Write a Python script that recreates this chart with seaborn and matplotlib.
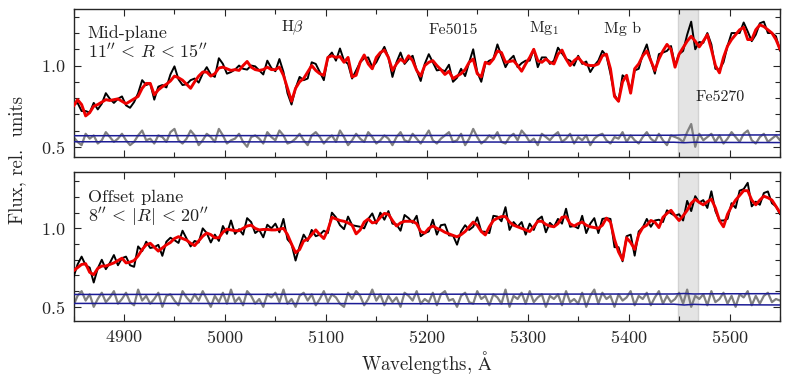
import matplotlib
matplotlib.use("Agg")
import matplotlib.pyplot as plt
import matplotlib.ticker as mticker
import numpy as np
import pandas as pd
import seaborn as sns

# wavelength grid of the read-off points (Angstrom)
wave_start, wave_stop, wave_step = 4850, 5550, 4

# mid-plane: best-fit model (red) and residuals data - model (in 0.01 units)
mid_model = [
    0.75, 0.79, 0.76, 0.69, 0.71, 0.75, 0.76, 0.775, 0.79, 0.785,
    0.79, 0.795, 0.78, 0.765, 0.78, 0.795, 0.81, 0.86, 0.89, 0.89,
    0.82, 0.85, 0.87, 0.885, 0.905, 0.935, 0.925, 0.91, 0.885, 0.86,
    0.90, 0.935, 0.96, 0.96, 0.935, 0.95, 0.985, 0.99, 0.98, 0.97,
    0.975, 0.97, 1.00, 1.025, 0.99, 0.975, 0.97, 0.975, 0.99, 0.975,
    0.975, 0.99, 0.94, 0.86, 0.78, 0.86, 0.90, 0.92, 0.96, 1.00,
    0.97, 0.95, 0.94, 1.05, 1.06, 1.05, 1.055, 1.02, 1.05, 0.93,
    0.94, 1.02, 1.065, 1.01, 0.98, 1.05, 1.08, 1.095, 1.05, 0.97,
    1.01, 1.04, 1.02, 1.06, 1.03, 0.97, 0.935, 1.00, 1.02, 1.03,
    1.00, 0.975, 0.945, 0.965, 0.92, 0.935, 0.95, 0.975, 1.02, 1.04,
    0.95, 0.93, 1.02, 1.01, 1.04, 1.09, 1.08, 1.02, 1.025, 1.03,
    1.00, 0.965, 1.01, 1.05, 1.10, 1.03, 1.02, 1.04, 1.02, 1.01,
    1.07, 1.095, 1.04, 1.00, 1.03, 1.05, 1.02, 1.005, 1.00, 1.00,
    1.01, 1.06, 1.07, 0.98, 0.81, 0.78, 0.90, 0.94, 0.83, 0.98,
    1.01, 1.06, 1.09, 1.03, 0.97, 1.04, 1.09, 1.13, 1.10, 0.99,
    1.07, 1.11, 1.15, 1.18, 1.15, 1.115, 1.15, 1.19, 1.10, 1.00,
    0.955, 1.05, 1.12, 1.16, 1.19, 1.22, 1.235, 1.16, 1.16, 1.22,
    1.25, 1.24, 1.22, 1.20, 1.16, 1.10,
]
mid_resid = [
    1, -2, -4, 3, 0, 2, -3, -1, 4, 1,
    -2, 0, 3, -1, -4, -2, 2, 5, -1, 0,
    -3, 2, 1, -2, 4, 6, -1, -3, 0, 5,
    2, -4, -1, 3, 1, -2, 6, 2, -3, -1,
    0, 3, -2, -5, 1, 2, 0, -3, 4, 1,
    -1, 5, 2, -3, -2, 0, 3, -1, -4, 2,
    4, 1, -3, 0, 2, -2, 5, 1, -4, -1,
    3, 0, -2, 4, 1, -3, -1, 2, 0, -4,
    1, 4, -1, -2, 3, 0, -3, 1, 5, -1,
    -3, 0, 2, 4, -2, -1, 3, -4, 0, 6,
    1, -3, -1, 2, 0, 4, -2, -3, 1, 3,
    -1, 5, 2, -2, 0, -4, 3, 1, -1, 2,
    4, -2, 0, 3, -3, 1, -1, 2, -4, 0,
    2, 3, -1, -3, 1, 0, 4, -2, 2, -1,
    -3, 1, 4, 0, -2, 3, -1, -4, 2, 1,
    0, -2, 4, 9, -5, 3, -1, 1, 3, -2,
    2, -3, 0, 4, 1, -2, 3, 5, -1, -3,
    1, 3, -2, 0, 2, -1,
]

# offset plane
off_model = [
    0.73, 0.75, 0.77, 0.775, 0.72, 0.705, 0.745, 0.76, 0.76, 0.77,
    0.78, 0.795, 0.81, 0.78, 0.785, 0.795, 0.825, 0.865, 0.895, 0.905,
    0.88, 0.855, 0.875, 0.895, 0.91, 0.935, 0.947, 0.935, 0.925, 0.905,
    0.89, 0.92, 0.95, 0.97, 0.96, 0.94, 0.94, 0.975, 0.995, 0.99,
    0.985, 0.985, 1.00, 1.015, 1.02, 1.00, 0.99, 0.993, 0.993, 0.99,
    0.99, 0.995, 1.00, 0.96, 0.90, 0.845, 0.865, 0.92, 0.93, 0.96,
    0.99, 0.96, 0.935, 0.99, 1.07, 1.06, 1.05, 1.045, 1.035, 1.02,
    0.965, 0.99, 1.04, 1.06, 1.035, 1.04, 1.07, 1.095, 1.09, 1.05,
    1.015, 1.035, 1.045, 1.045, 1.045, 1.03, 0.98, 0.97, 1.00, 1.015,
    1.00, 0.99, 0.975, 0.965, 0.955, 0.946, 0.96, 0.98, 1.01, 1.04,
    1.02, 0.98, 0.958, 1.01, 1.05, 1.065, 1.075, 1.075, 1.04, 1.02,
    1.01, 1.00, 0.99, 0.98, 1.01, 1.045, 1.045, 1.025, 1.015, 1.01,
    1.03, 1.07, 1.075, 1.03, 1.015, 1.03, 1.04, 1.02, 1.01, 1.005,
    1.00, 1.02, 1.065, 1.04, 0.93, 0.85, 0.80, 0.94, 0.91, 0.866,
    0.96, 1.005, 1.02, 1.05, 1.04, 1.005, 1.07, 1.095, 1.115, 1.08,
    1.05, 1.08, 1.115, 1.16, 1.185, 1.165, 1.15, 1.17, 1.186, 1.13,
    1.05, 1.01, 1.09, 1.14, 1.18, 1.21, 1.24, 1.24, 1.18, 1.15,
    1.18, 1.205, 1.195, 1.18, 1.14, 1.10,
]
off_resid = [
    -4, 2, 5, -1, 3, -5, 0, 4, -2, 1,
    5, -3, 0, 4, -2, -4, 6, -1, 2, -3,
    0, 4, -5, 2, 3, -1, -4, 5, 1, -2,
    3, -1, 5, 0, -5, 2, -2, 4, -3, 6,
    -2, 1, -4, 5, 2, -3, 0, -5, 3, 1,
    4, -2, 6, -3, 0, -5, 2, 4, -1, 3,
    -4, 0, 5, -2, 3, 1, -3, -5, 4, 0,
    5, 2, -4, 0, 6, -1, 3, -4, 2, -2,
    1, -5, 4, 2, -1, 5, -3, 0, -2, 4,
    -4, 3, 5, -1, 0, -5, 2, 4, -2, -3,
    5, 0, 2, -4, 3, 1, -3, 6, -5, 2,
    0, 4, -3, 5, -2, 1, 3, -5, 2, 0,
    3, -4, 5, -2, 0, -3, 4, -5, 2, 6,
    -3, 4, 0, 2, -5, 3, -1, 1, 5, -4,
    2, 0, 4, -4, 1, 5, -3, 2, -2, 0,
    4, -3, 6, -5, 2, 0, 3, -4, 5, -2,
    0, 4, -3, 2, -5, 3, 1, 5, -4, 2,
    -3, 2, 4, -2, 0, -1,
]

# error envelope (blue) around the shifted residuals
err_wave = [4850, 5100, 5300, 5445, 5455, 5465, 5475, 5550]
mid_err_hi = [0.568, 0.569, 0.570, 0.571, 0.573, 0.571, 0.572, 0.573]
mid_err_lo = [0.531, 0.530, 0.529, 0.528, 0.525, 0.528, 0.527, 0.526]
off_err_hi = [0.579, 0.580, 0.581, 0.582, 0.585, 0.582, 0.583, 0.584]
off_err_lo = [0.522, 0.521, 0.519, 0.517, 0.512, 0.516, 0.514, 0.512]
resid_offset = 0.55

mask_range = (5449, 5469)

line_names = [r"H$\beta$", "Fe5015", r"Mg$_1$", "Mg b", "Fe5270"]
line_x = [5067, 5226, 5316, 5394, 5491]
line_y = [1.209, 1.194, 1.209, 1.199, 0.779]

FS = 13


def draw_panel(ax, model, resid, err_hi, err_lo, label, label_y, ylim):
    wave = np.arange(wave_start, wave_stop + 1, wave_step)
    model = np.asarray(model)
    dev = np.asarray(resid) / 100.0
    df = pd.DataFrame({"wave": wave, "model": model,
                       "data": model + dev, "resid": resid_offset + dev})
    err = pd.DataFrame({"wave": err_wave, "hi": err_hi, "lo": err_lo})

    ax.axvspan(*mask_range, facecolor="#e4e4e4", edgecolor="#d2d2d2",
               lw=1.0, zorder=0)
    sns.lineplot(data=df, x="wave", y="resid", ax=ax, color="#808080",
                 lw=1.6, zorder=2)
    sns.lineplot(data=err, x="wave", y="hi", ax=ax, color="#1c1c96",
                 lw=1.1, zorder=3)
    sns.lineplot(data=err, x="wave", y="lo", ax=ax, color="#1c1c96",
                 lw=1.1, zorder=3)
    sns.lineplot(data=df, x="wave", y="data", ax=ax, color="black",
                 lw=1.4, zorder=4)
    sns.lineplot(data=df, x="wave", y="model", ax=ax, color="#ee0000",
                 lw=2.1, zorder=5, solid_joinstyle="round")

    ax.set_xlim(wave_start, wave_stop)
    ax.set_ylim(*ylim)
    ax.set_xlabel("")
    ax.set_ylabel("")
    ax.xaxis.set_major_locator(mticker.MultipleLocator(100))
    ax.xaxis.set_minor_locator(mticker.MultipleLocator(50))
    ax.yaxis.set_major_locator(mticker.MultipleLocator(0.5))
    ax.yaxis.set_minor_locator(mticker.MultipleLocator(0.1))
    ax.tick_params(which="both", direction="in", top=True, right=True,
                   labelsize=FS, width=0.8)
    ax.tick_params(which="major", length=5, pad=6)
    ax.tick_params(which="minor", length=3.5)
    for s in ax.spines.values():
        s.set_linewidth(1.0)
    ax.text(0.02, label_y, label, transform=ax.transAxes, fontsize=FS,
            va="top", ha="left", linespacing=1.0, color="#222222")


def main():
    sns.set_style("ticks")
    plt.rcParams["font.family"] = ["cmr10", "DejaVu Serif"]
    plt.rcParams["mathtext.fontset"] = "cm"
    plt.rcParams["axes.formatter.use_mathtext"] = True

    fig = plt.figure(figsize=(7.89, 3.80), dpi=100)
    ax1 = fig.add_axes([0.0932, 0.5868, 0.8954, 0.3908])
    ax2 = fig.add_axes([0.0932, 0.1553, 0.8954, 0.3921])

    draw_panel(ax1, mid_model, mid_resid, mid_err_hi, mid_err_lo,
               "Mid-plane\n"
               r"$11^{\prime\prime}\,<\,R\,<\,15^{\prime\prime}$",
               0.885, (0.437, 1.351))
    draw_panel(ax2, off_model, off_resid, off_err_hi, off_err_lo,
               "Offset plane\n"
               r"$8^{\prime\prime}\,<\,|R|\,<\,20^{\prime\prime}$",
               0.882, (0.41, 1.359))
    ax1.tick_params(labelbottom=False)

    for name, x, y in zip(line_names, line_x, line_y):
        ax1.text(x, y, name, ha="center", va="baseline", fontsize=11.5,
                 color="#222222")

    ax2.set_xlabel(r"Wavelengths, $\mathrm{\AA}$", fontsize=13.5,
                   labelpad=2)
    fig.text(0.022, 0.58, "Flux, rel.  units", rotation=90, ha="center",
             va="center", fontsize=13.5)

    fig.savefig("out.png", dpi=100)
    plt.close(fig)


if __name__ == "__main__":
    main()
